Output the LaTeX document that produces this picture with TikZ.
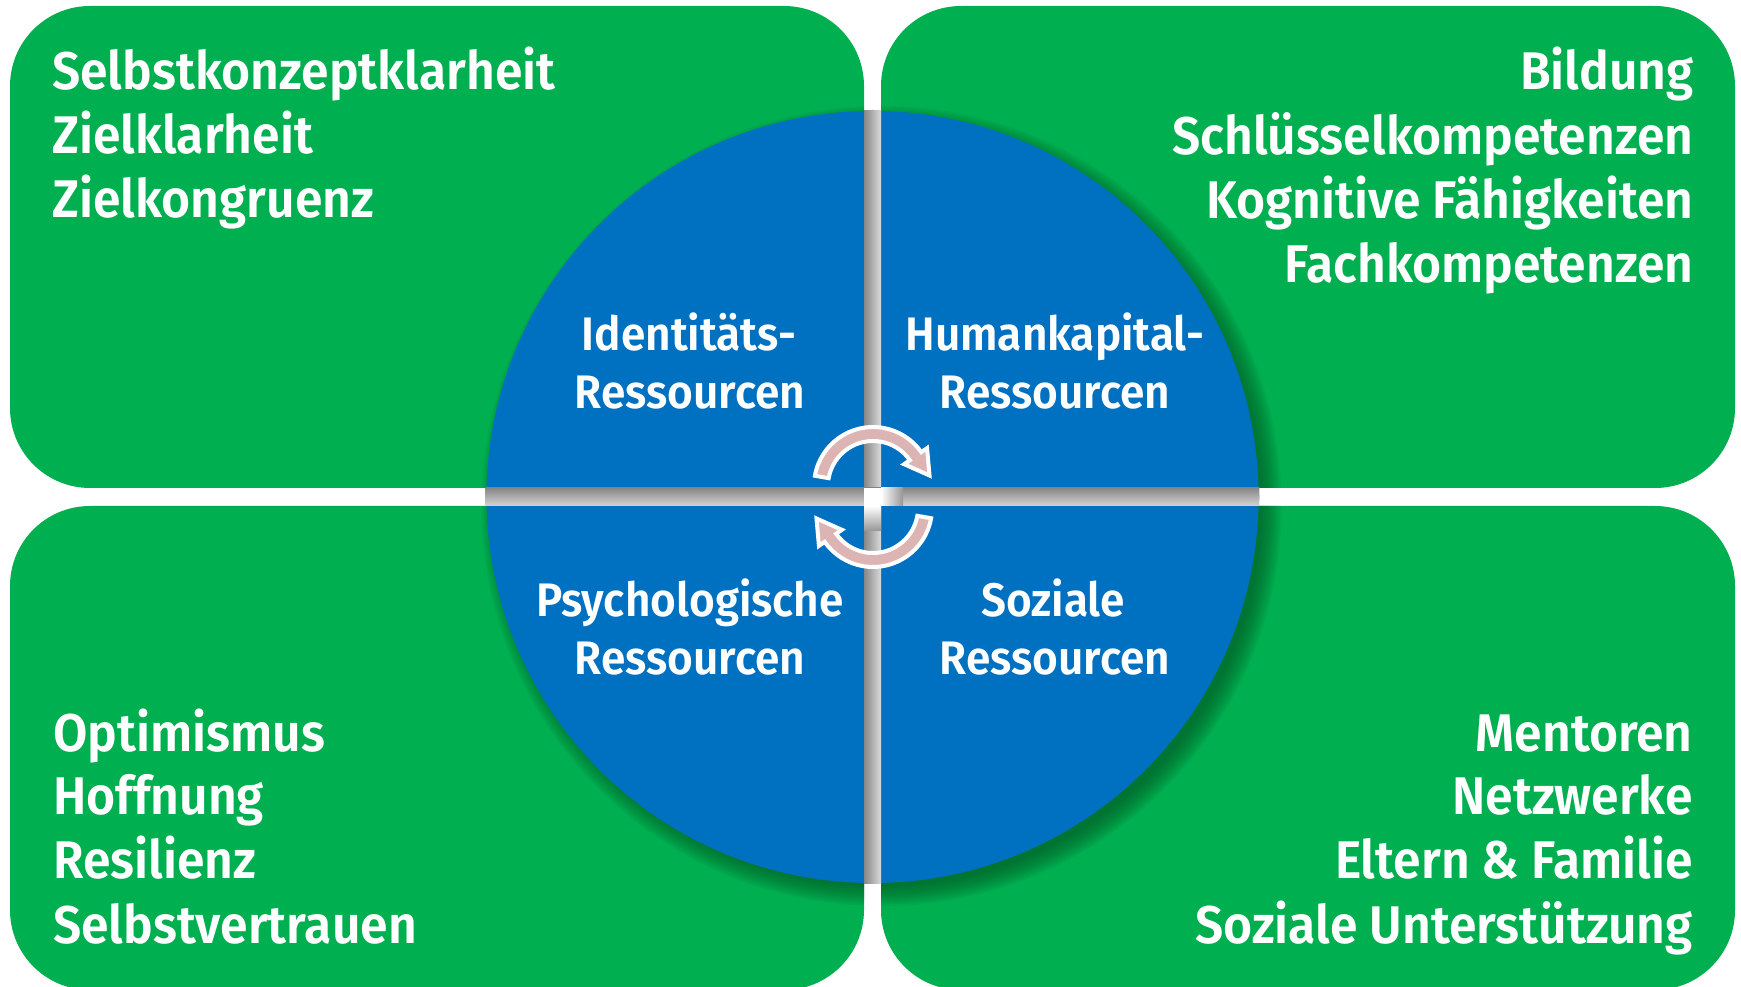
\documentclass[tikz,border=0pt]{standalone}
\usepackage{fontspec}
\setmainfont{Fira Sans}[FakeStretch=0.94, BoldFont={* SemiBold}]
\definecolor{boxgreen}{RGB}{0,175,80}
\definecolor{circblue}{RGB}{0,112,192}
\definecolor{shadowgreen}{RGB}{0,90,38}
\definecolor{arrowpink}{RGB}{221,180,180}
\definecolor{gapgray}{RGB}{150,150,150}
\tikzset{
  greenbox/.style={fill=boxgreen, rounded corners=80pt},
  cornertext/.style={text=white, font=\fontsize{53}{60}\selectfont\bfseries, inner sep=0pt},
  labeltext/.style={text=white, font=\fontsize{47}{56}\selectfont\bfseries, inner sep=0pt, anchor=base},
  cyclearrow/.style={fill=arrowpink, draw=white, line width=4pt, line join=miter},
}
\begin{document}
\begin{tikzpicture}[x=1pt,y=1pt]
\useasboundingbox (0,0) rectangle (1741,986);
% green quadrants
\fill[greenbox] (10,498) rectangle (864,980);
\fill[greenbox] (881,498) rectangle (1735,980);
\fill[greenbox] (10,-4) rectangle (864,480);
\fill[greenbox] (881,-4) rectangle (1735,480);
% soft shadow of the circle on the green boxes
\begin{scope}
  \clip[rounded corners=80pt] (10,498) rectangle (864,980) (881,498) rectangle (1735,980)
        (10,-4) rectangle (864,480) (881,-4) rectangle (1735,480);
  \foreach \k in {-6,-4,...,14}
    \fill[shadowgreen, opacity=0.09] (881.5,480) circle[radius=386+\k];
\end{scope}
% blue circle
\fill[circblue] (872.5,489) circle[radius=386];
% gaps inside the circle
\begin{scope}
  \clip (872.5,489) circle[radius=387];
  \shade[left color=gapgray!90!black, right color=gapgray!35] (864,95) rectangle (881,885);
  \shade[top color=gapgray!90!black, bottom color=gapgray!40] (480,480) rectangle (1265,498);
  \fill[white] (864,480) rectangle (881,498);
  \shade[top color=white, bottom color=gapgray] (864,455) rectangle (881,480);
  \shade[left color=white, right color=gapgray] (881,480) rectangle (903,498);
\end{scope}
% cycle arrows
\begin{scope}[shift={(873,500)}]
  \filldraw[cyclearrow] (170:59) arc[start angle=170, end angle=35, radius=59]
    -- (35:66) -- (56.5,10.5) -- (35:38) -- (35:45)
    arc[start angle=35, end angle=170, radius=45] -- cycle;
\end{scope}
\begin{scope}[shift={(873,478)}, rotate=180]
  \filldraw[cyclearrow] (170:59) arc[start angle=170, end angle=35, radius=59]
    -- (35:66) -- (56.5,10.5) -- (35:38) -- (35:45)
    arc[start angle=35, end angle=170, radius=45] -- cycle;
\end{scope}
% corner texts
\node[cornertext, anchor=base west] (tl1) at (52,896) {Selbstkonzeptklarheit};
\node[cornertext, anchor=base west] (tl2) at (52,832) {Zielklarheit};
\node[cornertext, anchor=base west] (tl3) at (52,768) {Zielkongruenz};
\node[cornertext, anchor=base east] (tr1) at (1694,896) {Bildung};
\node[cornertext, anchor=base east] (tr2) at (1694,831) {Schlüsselkompetenzen};
\node[cornertext, anchor=base east] (tr3) at (1694,767) {Kognitive Fähigkeiten};
\node[cornertext, anchor=base east] (tr4) at (1694,703) {Fachkompetenzen};
\node[cornertext, anchor=base west] (bl1) at (53,234) {Optimismus};
\node[cornertext, anchor=base west] (bl2) at (53,171) {Hoffnung};
\node[cornertext, anchor=base west] (bl3) at (53,107) {Resilienz};
\node[cornertext, anchor=base west] (bl4) at (53,43) {Selbstvertrauen};
\node[cornertext, anchor=base east] (br1) at (1693,234) {Mentoren};
\node[cornertext, anchor=base east] (br2) at (1693,171) {Netzwerke};
\node[cornertext, anchor=base east] (br3) at (1693,107) {Eltern \& Familie};
\node[cornertext, anchor=base east] (br4) at (1693,43) {Soziale Unterstützung};
% circle labels
\node[labeltext] (id1) at (689,635) {Identitäts-};
\node[labeltext] (id2) at (690,577) {Ressourcen};
\node[labeltext] (hk1) at (1055,635) {Humankapital-};
\node[labeltext] (hk2) at (1055,577) {Ressourcen};
\node[labeltext] (ps1) at (690,369) {Psychologische};
\node[labeltext] (ps2) at (690,311) {Ressourcen};
\node[labeltext] (so1) at (1053,369) {Soziale};
\node[labeltext] (so2) at (1055,311) {Ressourcen};
\end{tikzpicture}
\end{document}
